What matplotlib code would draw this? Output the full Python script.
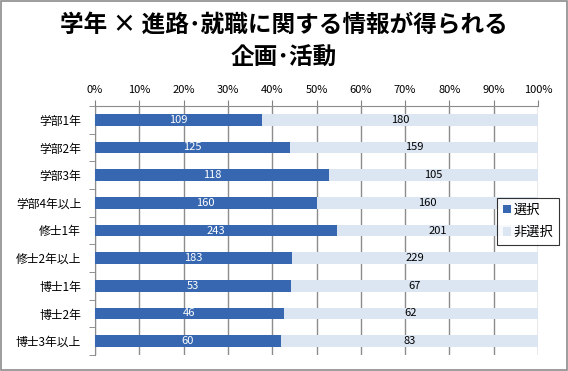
import numpy as np
import matplotlib
matplotlib.use("Agg")
import matplotlib.pyplot as plt
from matplotlib.patches import Rectangle

plt.rcParams['font.family'] = ['Noto Sans CJK JP', 'DejaVu Sans']

categories = ["学部1年", "学部2年", "学部3年", "学部4年以上", "修士1年",
              "修士2年以上", "博士1年", "博士2年", "博士3年以上"]
selected = [109, 125, 118, 160, 243, 183, 53, 46, 60]
not_selected = [180, 159, 105, 160, 201, 229, 67, 62, 83]
tick_labels = ["0%", "10%", "20%", "30%", "40%", "50%", "60%", "70%", "80%", "90%", "100%"]

sel = np.array(selected, dtype=float)
non = np.array(not_selected, dtype=float)
total = sel + non
sel_frac = sel / total
non_frac = non / total

fig = plt.figure(figsize=(5.68, 3.71), dpi=100)
ax = fig.add_axes([95 / 568, 1 - 355 / 371, (538 - 95) / 568, (355 - 106) / 371])

y = np.arange(len(categories))
h = 0.42
dark = "#3767B0"
light = "#DCE6F2"

ax.barh(y, sel_frac, height=h, color=dark, zorder=3, label="選択")
ax.barh(y, non_frac, left=sel_frac, height=h, color=light, zorder=3, label="非選択")

for i in range(len(categories)):
    ax.text(sel_frac[i] / 2, y[i], str(selected[i]), ha="center", va="center",
            color="white", fontsize=8, zorder=4)
    ax.text(sel_frac[i] + non_frac[i] / 2, y[i], str(not_selected[i]), ha="center",
            va="center", color="black", fontsize=8, zorder=4)

ax.set_xlim(0, 1)
ax.set_ylim(len(categories) - 0.5, -0.5)
ax.set_xticks(np.linspace(0, 1, 11))
ax.set_xticklabels(tick_labels, fontsize=8)
ax.xaxis.tick_top()
ax.set_yticks(y)
ax.set_yticklabels(categories, fontsize=8.5)
ax.set_yticks(np.arange(-0.5, len(categories)), minor=True)
ax.tick_params(axis="y", which="major", length=0, pad=10)
ax.tick_params(axis="y", which="minor", length=4, color="#808080")
ax.tick_params(axis="x", length=4, color="#808080", pad=4)
ax.grid(axis="x", color="#8C8C8C", linewidth=1, zorder=1)
for side in ["right", "bottom"]:
    ax.spines[side].set_visible(False)
for side in ["left", "top"]:
    ax.spines[side].set_color("#8C8C8C")

fig.text(0.5, 1 - 25 / 371, "学年 × 進路･就職に関する情報が得られる", ha="center", va="center",
         fontsize=17, fontweight="bold")
fig.text(0.5, 1 - 58 / 371, "企画･活動", ha="center", va="center",
         fontsize=17, fontweight="bold")

leg = fig.legend(loc="upper left", bbox_to_anchor=(497 / 568, 1 - 198 / 371),
                 fontsize=9.5, frameon=True, fancybox=False, edgecolor="black",
                 handlelength=0.6, handleheight=0.6, handletextpad=0.2,
                 labelspacing=0.7, borderpad=0.45, borderaxespad=0)
leg.get_frame().set_linewidth(0.8)

fig.patches.append(Rectangle((0.001, 0.002), 0.997, 0.995, transform=fig.transFigure,
                             fill=False, edgecolor="#8C8C8C", linewidth=1.2))

fig.savefig("out.png", dpi=100)
